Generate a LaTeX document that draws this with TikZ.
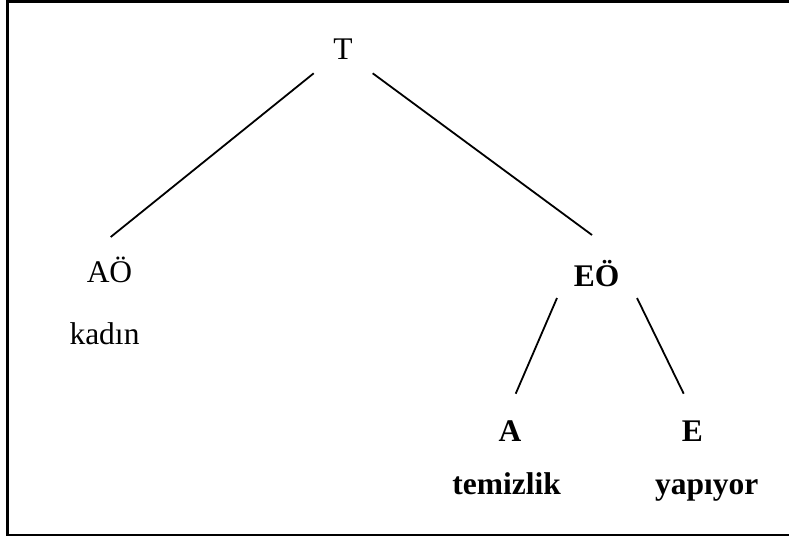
\documentclass[tikz,border=0pt]{standalone}
\usepackage{fontspec}
\setmainfont{Liberation Serif}
\begin{document}
\begin{tikzpicture}[x=1pt,y=-1pt,
  lbl/.style={inner sep=0pt,anchor=base,font=\fontsize{31.5}{36}\selectfont},
  blbl/.style={lbl,font=\fontsize{31.5}{36}\selectfont\bfseries},
  edge/.style={line width=1.8pt},
  frame/.style={line width=2.2pt}]
\useasboundingbox (0,0) rectangle (789,538);
\draw[frame] (7.5,1.5) rectangle (795,535);
\node[lbl] (T) at (343,59.5) {T};
\node[lbl] (AO) at (109.5,282.7) {AÖ};
\node[lbl] (kadin) at (104.5,344) {kadın};
\node[blbl] (EO) at (596.5,286.7) {EÖ};
\node[blbl] (A) at (510,441) {A};
\node[blbl] (E) at (692.3,441) {E};
\node[blbl] (temizlik) at (506.7,494) {temizlik};
\node[blbl] (yapiyor) at (706.7,494) {yapıyor};
\coordinate (T1) at (313.7,73.3);
\coordinate (T2) at (372.7,73.3);
\coordinate (AOt) at (110.7,237);
\coordinate (EOt) at (592,235);
\coordinate (EO1) at (557,298);
\coordinate (EO2) at (637,298);
\coordinate (At) at (515.7,393.7);
\coordinate (Et) at (683.7,393.7);
\draw[edge] (T1) -- (AOt);
\draw[edge] (T2) -- (EOt);
\draw[edge] (EO1) -- (At);
\draw[edge] (EO2) -- (Et);
\end{tikzpicture}
\end{document}
